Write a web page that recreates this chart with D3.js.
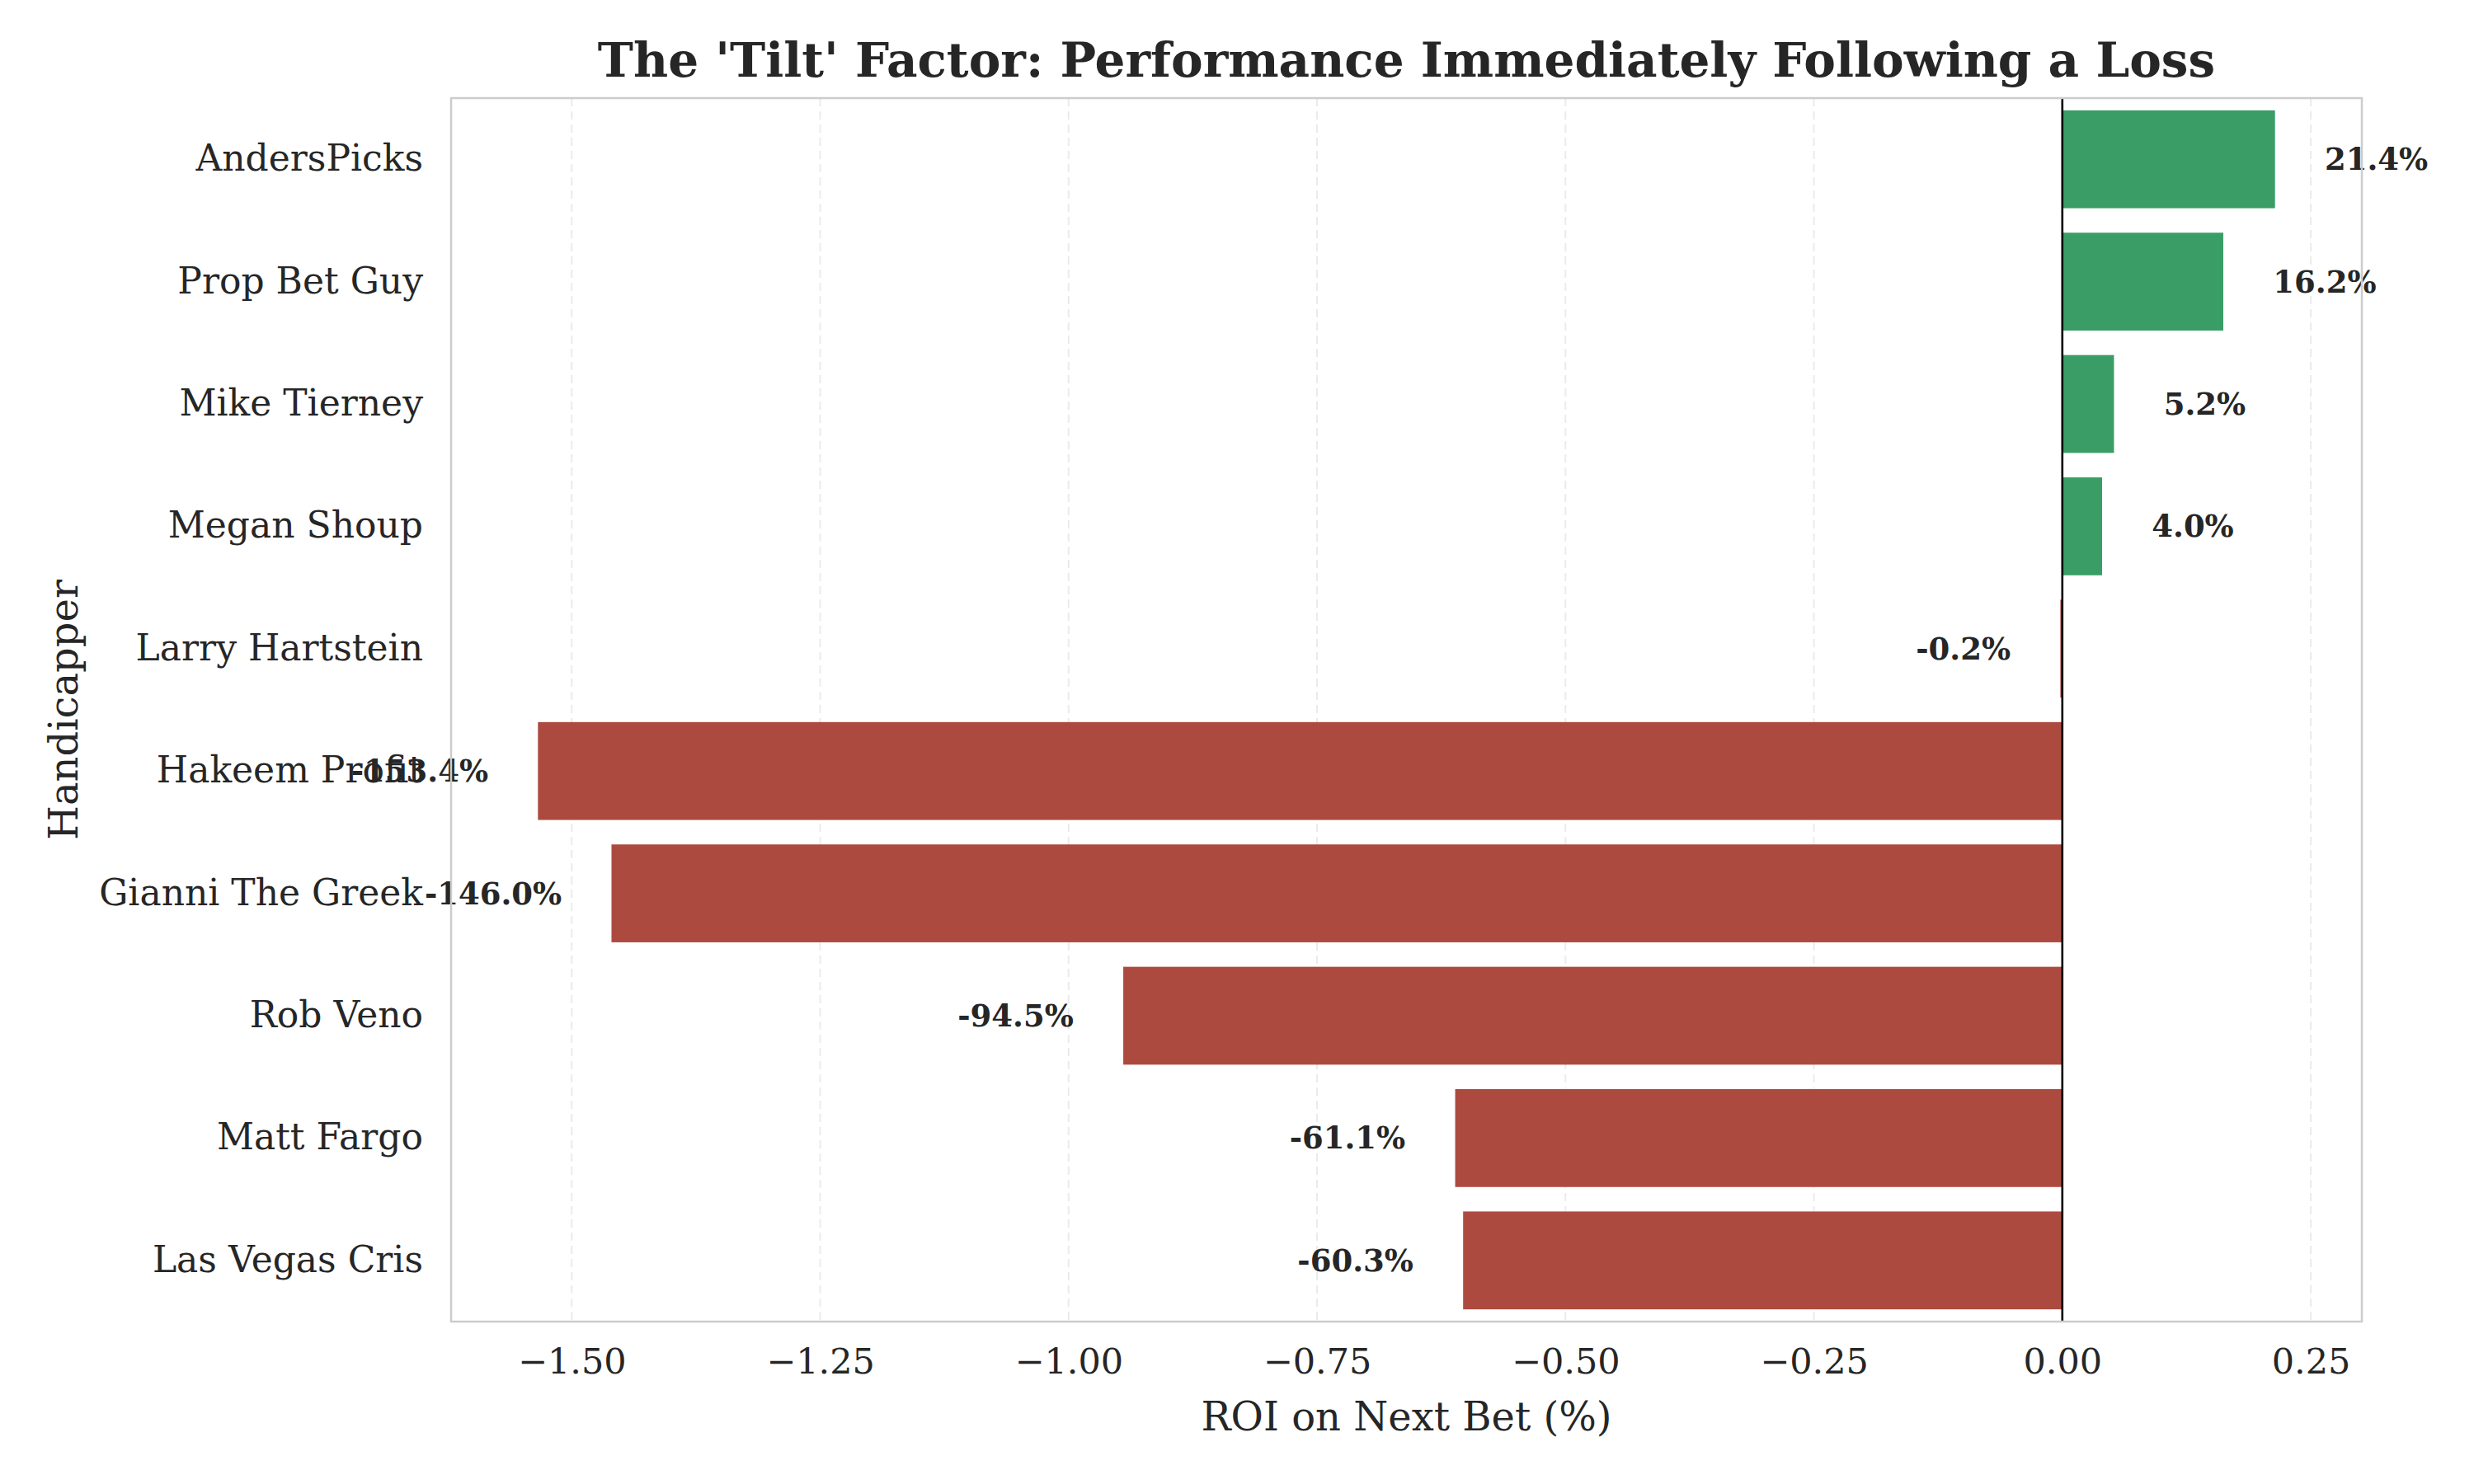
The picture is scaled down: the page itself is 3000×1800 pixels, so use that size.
<!DOCTYPE html>
<html>
<head>
<meta charset="utf-8">
<script src="https://cdn.jsdelivr.net/npm/d3@7"></script>
<style>
  body { margin: 0; background: white; }
  text { font-family: "DejaVu Serif", serif; }
</style>
</head>
<body>
<div id="chart"></div>
<script>
const W = 3000, H = 1800;
const MARGIN = { TOP: 119, RIGHT: 136, BOTTOM: 197, LEFT: 547 };
const width = W - MARGIN.LEFT - MARGIN.RIGHT;
const height = H - MARGIN.TOP - MARGIN.BOTTOM;

const handicappers = ["AndersPicks", "Prop Bet Guy", "Mike Tierney", "Megan Shoup", "Larry Hartstein",
  "Hakeem Profit", "Gianni The Greek", "Rob Veno", "Matt Fargo", "Las Vegas Cris"];
const roi = [0.214, 0.162, 0.052, 0.040, -0.002, -1.534, -1.460, -0.945, -0.611, -0.603];
const xTicks = [-1.5, -1.25, -1.0, -0.75, -0.5, -0.25, 0, 0.25];

const POS = "#3a9d66", NEG = "#ad4a40", INK = "#262626";

const data = handicappers.map((name, i) => ({ name, value: roi[i] }));

const svg = d3.select("#chart").append("svg")
  .attr("width", W).attr("height", H)
  .style("background-color", "white");

const g = svg.append("g").attr("transform", `translate(${MARGIN.LEFT},${MARGIN.TOP})`);

// matplotlib-like 5% margins around the data range
const lo = d3.min(roi), hi = d3.max(roi);
const pad = (hi - lo) * 0.05;
const x = d3.scaleLinear().domain([lo - pad, hi + pad]).range([0, width]);
const y = d3.scaleBand().domain(handicappers).range([0, height]).paddingInner(0.2).paddingOuter(0.1);

// grid
g.append("g").selectAll("line").data(xTicks).join("line")
  .attr("x1", d => x(d)).attr("x2", d => x(d))
  .attr("y1", 0).attr("y2", height)
  .attr("stroke", "#ebebeb").attr("stroke-width", 2)
  .attr("stroke-dasharray", "10,6");

// bars
g.append("g").selectAll("rect").data(data).join("rect")
  .attr("x", d => x(Math.min(0, d.value)))
  .attr("y", d => y(d.name))
  .attr("width", d => Math.abs(x(d.value) - x(0)))
  .attr("height", y.bandwidth())
  .attr("fill", d => d.value >= 0 ? POS : NEG);

// zero line
g.append("line")
  .attr("x1", x(0)).attr("x2", x(0)).attr("y1", 0).attr("y2", height)
  .attr("stroke", "black").attr("stroke-width", 2.6);

// value labels
g.append("g").selectAll("text").data(data).join("text")
  .attr("x", d => d.value >= 0 ? x(d.value + 0.05) : x(d.value - 0.05))
  .attr("y", d => y(d.name) + y.bandwidth() / 2)
  .attr("dy", "0.35em")
  .attr("text-anchor", d => d.value >= 0 ? "start" : "end")
  .style("font-size", "37px")
  .style("font-weight", 700)
  .attr("fill", INK)
  .text(d => (d.value * 100).toFixed(1) + "%");

// frame
g.append("rect")
  .attr("width", width).attr("height", height)
  .attr("fill", "none").attr("stroke", "#cccccc").attr("stroke-width", 2.5);

// x axis
const xAxis = g.append("g").attr("transform", `translate(0,${height})`)
  .call(d3.axisBottom(x).tickValues(xTicks).tickSize(0).tickPadding(32)
    .tickFormat(d => d3.format(".2f")(d).replace("-", "\u2212")));
xAxis.select(".domain").remove();
xAxis.selectAll("text").style("font-size", "43px").attr("fill", INK);

// y axis
const yAxis = g.append("g")
  .call(d3.axisLeft(y).tickSize(0).tickPadding(34));
yAxis.select(".domain").remove();
yAxis.selectAll("text").style("font-size", "44px").attr("fill", INK);

// titles
svg.append("text")
  .attr("x", MARGIN.LEFT + width / 2).attr("y", 73)
  .attr("dy", "0.35em").attr("text-anchor", "middle")
  .style("font-size", "58px").style("font-weight", 700)
  .attr("fill", INK)
  .text("The 'Tilt' Factor: Performance Immediately Following a Loss");

svg.append("text")
  .attr("x", MARGIN.LEFT + width / 2).attr("y", 1718)
  .attr("dy", "0.35em").attr("text-anchor", "middle")
  .style("font-size", "48px").attr("fill", INK)
  .text("ROI on Next Bet (%)");

svg.append("text")
  .attr("transform", `translate(77,${MARGIN.TOP + height / 2}) rotate(-90)`)
  .attr("dy", "0.35em").attr("text-anchor", "middle")
  .style("font-size", "48px").attr("fill", INK)
  .text("Handicapper");
</script>
</body>
</html>
